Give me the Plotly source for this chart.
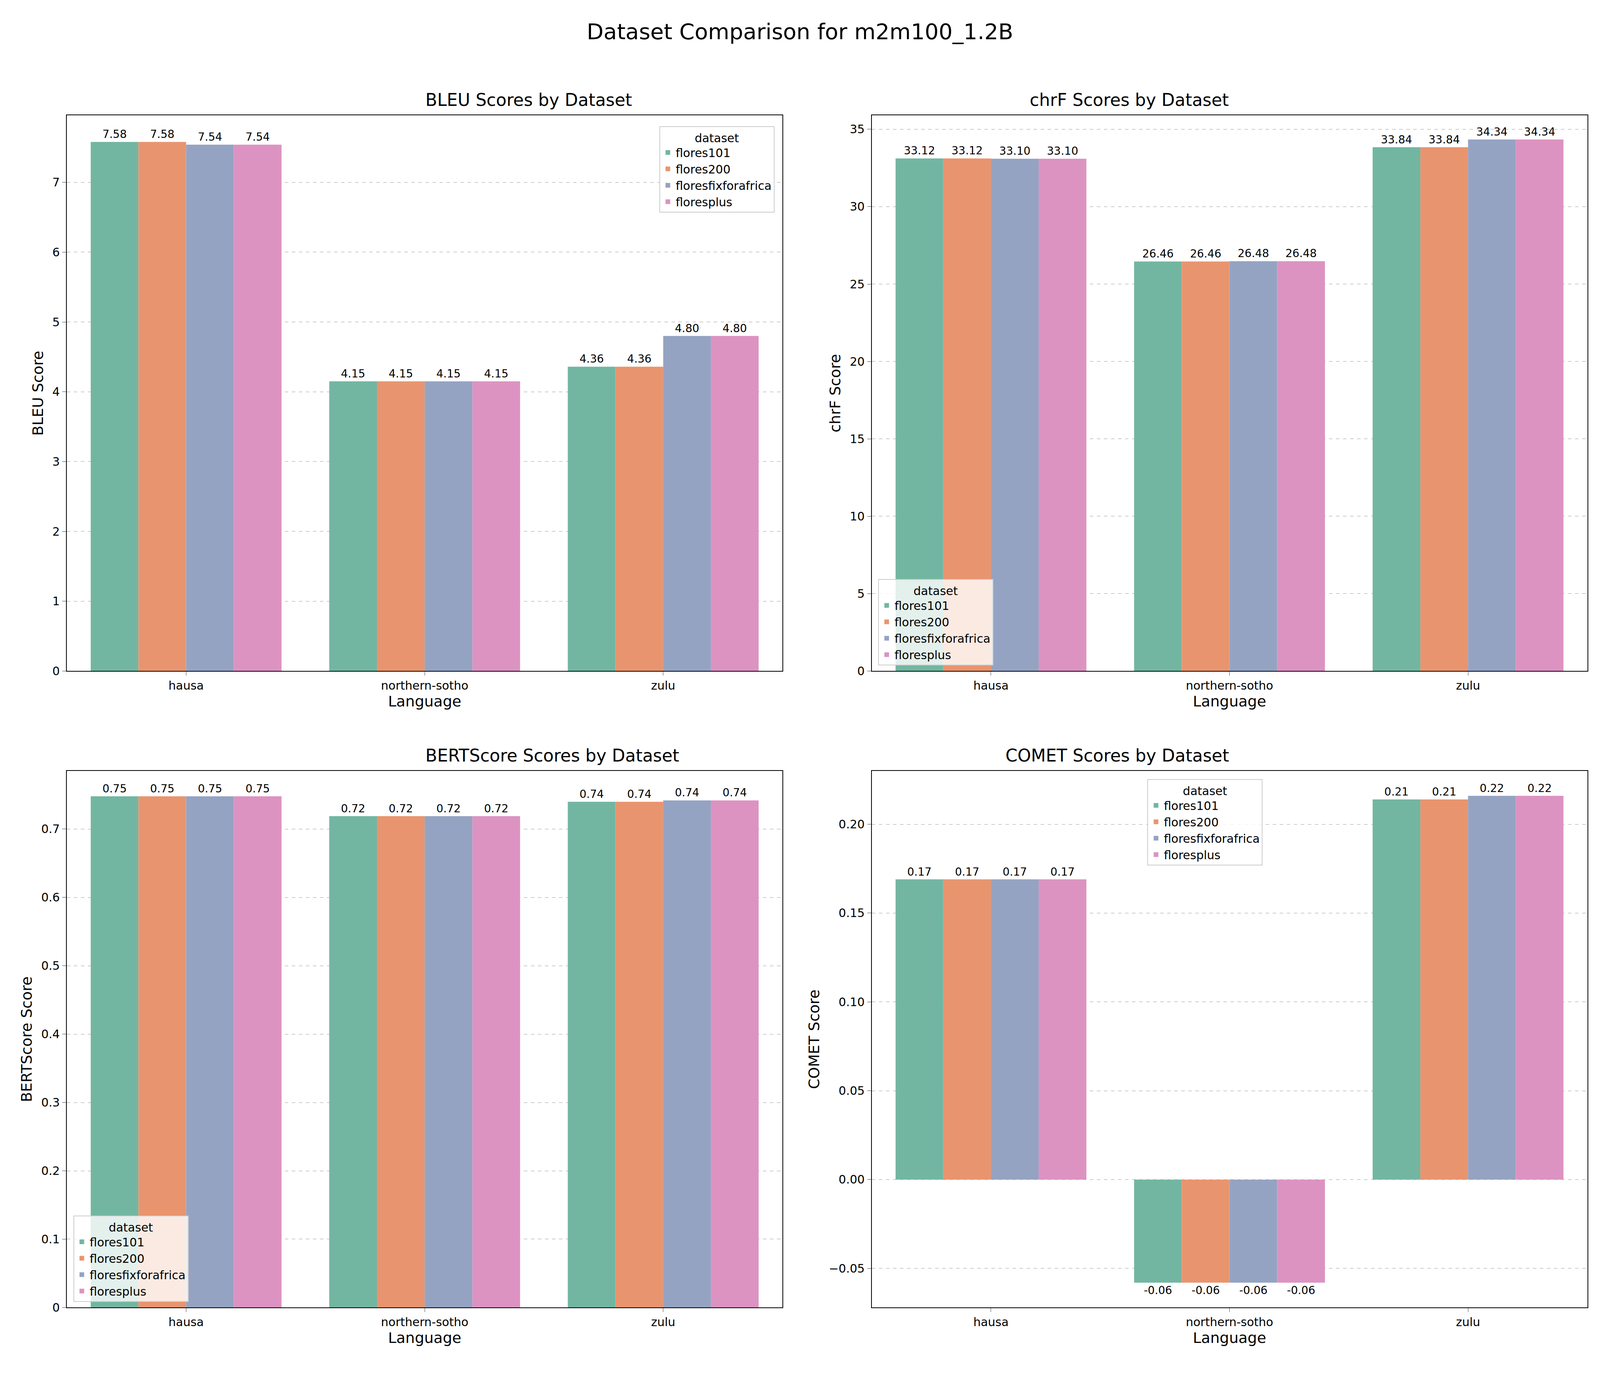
import plotly.graph_objects as go

languages = ["hausa", "northern-sotho", "zulu"]
datasets = ["flores101", "flores200", "floresfixforafrica", "floresplus"]
colors = ["#72b6a1", "#e8956f", "#95a3c3", "#dc93c1"]

bleu = {"flores101": [7.58, 4.15, 4.36], "flores200": [7.58, 4.15, 4.36],
        "floresfixforafrica": [7.54, 4.15, 4.80], "floresplus": [7.54, 4.15, 4.80]}
chrf = {"flores101": [33.12, 26.46, 33.84], "flores200": [33.12, 26.46, 33.84],
        "floresfixforafrica": [33.10, 26.48, 34.34], "floresplus": [33.10, 26.48, 34.34]}
bert = {"flores101": [0.748, 0.719, 0.740], "flores200": [0.748, 0.719, 0.740],
        "floresfixforafrica": [0.748, 0.719, 0.742], "floresplus": [0.748, 0.719, 0.742]}
comet = {"flores101": [0.169, -0.058, 0.214], "flores200": [0.169, -0.058, 0.214],
         "floresfixforafrica": [0.169, -0.058, 0.216], "floresplus": [0.169, -0.058, 0.216]}

panels = [
    ("BLEU", bleu, [0, 7.96], 1, [0.040, 0.489], [0.512, 0.918], dict(x=0.484, y=0.91, xanchor="right", yanchor="top")),
    ("chrF", chrf, [0, 35.9], 5, [0.545, 0.994], [0.512, 0.918], dict(x=0.549, y=0.516, xanchor="left", yanchor="bottom")),
    ("BERTScore", bert, [0, 0.785], 0.1, [0.040, 0.489], [0.047, 0.439], dict(x=0.044, y=0.051, xanchor="left", yanchor="bottom")),
    ("COMET", comet, [-0.072, 0.23], 0.05, [0.545, 0.994], [0.047, 0.439], dict(x=0.718, y=0.433, xanchor="left", yanchor="top")),
]

fig = go.Figure()
layout = {}
for i, (name, data, yr, dt, xd, yd, leg) in enumerate(panels):
    n = "" if i == 0 else str(i + 1)
    for ds, c in zip(datasets, colors):
        fig.add_trace(go.Bar(
            x=languages, y=data[ds], name=ds, marker_color=c, marker_line_width=0,
            texttemplate="%{y:.2f}", textposition="outside", cliponaxis=False,
            textfont=dict(size=28, color="black"),
            xaxis="x" + n, yaxis="y" + n, legend="legend" + n, offsetgroup=ds,
        ))
    layout["xaxis" + n] = dict(domain=xd, anchor="y" + n, showline=True, mirror=True,
                               linecolor="black", linewidth=2, ticks="outside", ticklen=10,
                               tickfont=dict(size=30), title=dict(text="Language", font=dict(size=38), standoff=10))
    layout["yaxis" + n] = dict(domain=yd, anchor="x" + n, range=yr, dtick=dt, showline=True, mirror=True,
                               linecolor="black", linewidth=2, ticks="outside", ticklen=10,
                               tickformat=".2f" if name == "COMET" else None,
                               tickfont=dict(size=30), showgrid=True, gridcolor="#cccccc", griddash="dash",
                               gridwidth=2, zeroline=False,
                               title=dict(text=name + " Score", font=dict(size=38), standoff=12))
    layout["legend" + n] = dict(**leg, title=dict(text="dataset", side="top center", font=dict(size=30)),
                                font=dict(size=30), bgcolor="rgba(255,255,255,0.8)",
                                bordercolor="#cccccc", borderwidth=2, itemsizing="constant")
    fig.add_annotation(text=name + " Scores by Dataset", x=(xd[0] + xd[1]) / 2, y=yd[1],
                       xref="paper", yref="paper", yanchor="bottom", yshift=12,
                       showarrow=False, font=dict(size=44))

fig.update_layout(
    **layout,
    title=dict(text="Dataset Comparison for m2m100_1.2B", x=0.5, y=0.985, yanchor="top", font=dict(size=56)),
    barmode="group", bargap=0.2, bargroupgap=0,
    font=dict(family="DejaVu Sans", color="black"),
    plot_bgcolor="white", paper_bgcolor="white",
    margin=dict(l=0, r=0, t=0, b=0), autosize=True,
)
fig.write_html("out.html")
